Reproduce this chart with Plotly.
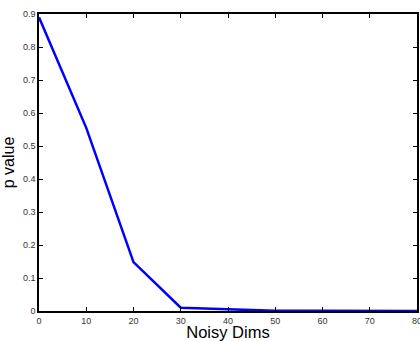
import plotly.graph_objects as go

noisy_dims = [0, 10, 20, 30, 40, 50, 60, 70, 80]
p_values = [0.89, 0.555, 0.148, 0.01, 0.005, 0.001, 0.0005, 0.0003, 0.0002]

x_ticks = [0, 10, 20, 30, 40, 50, 60, 70, 80]
y_ticks = [0, 0.1, 0.2, 0.3, 0.4, 0.5, 0.6, 0.7, 0.8, 0.9]
y_tick_labels = ["0", "0.1", "0.2", "0.3", "0.4", "0.5", "0.6", "0.7", "0.8", "0.9"]

FONT = "Liberation Sans, Arial, sans-serif"

fig = go.Figure()
fig.add_trace(go.Scatter(
    x=noisy_dims, y=p_values, mode="lines",
    line=dict(color="#0000ff", width=2.5),
    showlegend=False,
))

axis_common = dict(
    showline=True, linecolor="black", linewidth=1.5, mirror="ticks",
    ticks="inside", ticklen=4, tickwidth=1, tickcolor="black",
    showgrid=False, zeroline=False, automargin=False,
    ticklabeloverflow="allow",
    tickfont=dict(family=FONT, size=9, color="#333333"),
)

fig.update_xaxes(
    range=[0, 80], tickvals=x_ticks,
    title=dict(text="Noisy Dims", font=dict(family=FONT, size=16.5, color="black"), standoff=0),
    **axis_common,
)
fig.update_yaxes(
    range=[0, 0.9], tickvals=y_ticks, ticktext=y_tick_labels,
    title=dict(text="p value", font=dict(family=FONT, size=16, color="black"), standoff=6),
    **axis_common,
)

fig.update_layout(
    width=420, height=341,
    margin=dict(l=39, r=3, t=14, b=30),
    plot_bgcolor="white", paper_bgcolor="white",
)

fig.write_html(
    "out.html",
    config={"displayModeBar": False},
    post_script="document.body.style.margin='0';document.body.style.overflow='hidden';",
)
